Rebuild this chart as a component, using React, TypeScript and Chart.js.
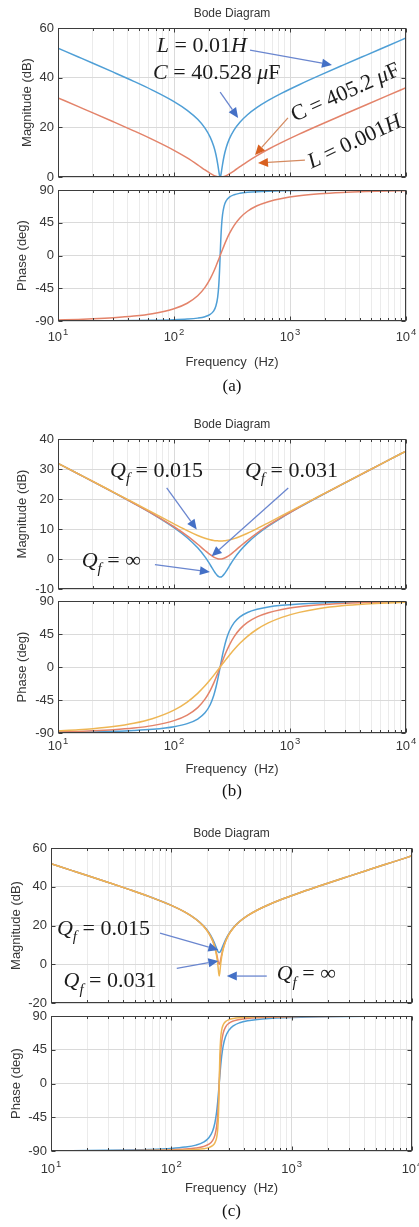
import React, { useEffect, useRef } from "react";
import { Chart, registerables } from "chart.js";

Chart.register(...registerables);

// ---------------- data ----------------
const FREQ_HZ = [10, 15, 20, 30, 45, 65, 100, 130, 160, 185, 205, 220, 230, 238, 243, 247, 250, 253, 257, 262, 270, 282, 300, 330, 370, 430, 520, 650, 850, 1200, 1800, 2800, 4500, 7000, 10000];

// (a) L = 0.01H, C = 40.528uF  /  L = 0.001H, C = 405.2uF
const A_MAG_L10 = [51.87, 48.33, 45.81, 42.21, 38.53, 35.01, 30.37, 26.86, 23.24, 19.7, 16.06, 12.36, 8.97, 5.3, 2.54, 0.58, 0, 0.57, 2.43, 5.01, 8.36, 11.87, 15.34, 18.98, 22.06, 25.07, 28.01, 30.83, 33.77, 37.16, 40.9, 44.84, 49.0, 52.85, 55.96];
const A_MAG_L1 = [31.87, 28.33, 25.82, 22.24, 18.59, 15.15, 10.75, 7.68, 4.91, 2.84, 1.44, 0.65, 0.29, 0.1, 0.03, 0.01, 0, 0.01, 0.03, 0.09, 0.25, 0.58, 1.24, 2.51, 4.14, 6.23, 8.64, 11.18, 13.94, 17.25, 20.94, 24.85, 29.01, 32.86, 35.96];
const A_PHASE_L10 = [-89.85, -89.78, -89.71, -89.56, -89.32, -88.98, -88.26, -87.4, -86.05, -84.06, -80.95, -76.06, -69.13, -57.1, -41.73, -20.74, 0, 20.57, 40.93, 55.83, 67.56, 75.23, 80.15, 83.54, 85.47, 86.8, 87.72, 88.35, 88.83, 89.21, 89.48, 89.67, 89.8, 89.87, 89.91];
const A_PHASE_L1 = [-88.54, -87.81, -87.07, -85.57, -83.25, -79.93, -73.14, -65.59, -55.39, -43.84, -32.11, -21.94, -14.7, -8.79, -5.1, -2.17, 0, 2.15, 4.96, 8.38, 13.61, 20.77, 29.94, 41.46, 51.64, 60.79, 68.29, 73.97, 78.42, 82.11, 84.85, 86.72, 87.97, 88.7, 89.09];

// (b) Qf = inf / 0.031 / 0.015
const B_MAG_QINF = [31.87, 28.33, 25.81, 22.22, 18.55, 15.05, 10.46, 7.08, 3.71, 0.69, -1.91, -3.85, -4.96, -5.62, -5.88, -6.0, -6.02, -6.0, -5.92, -5.66, -5.11, -4.05, -2.35, 0.13, 2.66, 5.38, 8.17, 10.92, 13.81, 17.18, 20.91, 24.84, 29.0, 32.85, 35.96];
const B_MAG_Q031 = [31.87, 28.33, 25.82, 22.24, 18.59, 15.15, 10.75, 7.68, 4.91, 2.84, 1.44, 0.65, 0.29, 0.1, 0.03, 0.01, 0, 0.01, 0.03, 0.09, 0.25, 0.58, 1.24, 2.51, 4.14, 6.23, 8.64, 11.18, 13.94, 17.25, 20.94, 24.85, 29.01, 32.86, 35.96];
const B_MAG_Q015 = [31.88, 28.35, 25.85, 22.31, 18.77, 15.53, 11.73, 9.47, 7.85, 6.92, 6.43, 6.19, 6.09, 6.05, 6.03, 6.02, 6.02, 6.02, 6.03, 6.04, 6.08, 6.17, 6.37, 6.79, 7.48, 8.57, 10.13, 12.07, 14.44, 17.48, 21.04, 24.89, 29.02, 32.86, 35.96];
const B_PHASE_QINF = [-89.27, -88.9, -88.53, -87.78, -86.61, -84.93, -81.38, -77.22, -70.96, -62.5, -51.45, -38.86, -27.68, -17.18, -10.12, -4.33, 0, 4.29, 9.84, 16.41, 25.84, 37.18, 49.04, 60.49, 68.41, 74.38, 78.74, 81.82, 84.15, 86.04, 87.42, 88.36, 88.98, 89.35, 89.54];
const B_PHASE_Q031 = [-88.54, -87.81, -87.07, -85.57, -83.25, -79.93, -73.14, -65.59, -55.39, -43.84, -32.11, -21.94, -14.7, -8.79, -5.1, -2.17, 0, 2.15, 4.96, 8.38, 13.61, 20.77, 29.94, 41.46, 51.64, 60.79, 68.29, 73.97, 78.42, 82.11, 84.85, 86.72, 87.97, 88.7, 89.09];
const B_PHASE_Q015 = [-87.08, -85.62, -84.15, -81.19, -76.68, -70.45, -58.78, -47.78, -35.92, -25.65, -17.42, -11.39, -7.47, -4.42, -2.55, -1.08, 0, 1.08, 2.48, 4.21, 6.91, 10.74, 16.07, 23.83, 32.28, 41.81, 51.48, 60.11, 67.71, 74.5, 79.78, 83.46, 85.94, 87.39, 88.18];

// (c) Qf = 0.015 / 0.031 / inf
const C_MAG_Q015 = [51.87, 48.33, 45.81, 42.21, 38.53, 35.02, 30.38, 26.9, 23.3, 19.83, 16.37, 13.06, 10.37, 8.06, 6.81, 6.17, 6.02, 6.17, 6.77, 7.9, 9.94, 12.65, 15.7, 19.14, 22.14, 25.1, 28.03, 30.85, 33.78, 37.16, 40.9, 44.84, 49.0, 52.85, 55.96];
const C_MAG_Q031 = [51.87, 48.33, 45.81, 42.21, 38.53, 35.01, 30.37, 26.86, 23.24, 19.7, 16.06, 12.36, 8.97, 5.3, 2.54, 0.58, 0, 0.57, 2.43, 5.01, 8.36, 11.87, 15.34, 18.98, 22.06, 25.07, 28.01, 30.83, 33.77, 37.16, 40.9, 44.84, 49.0, 52.85, 55.96];
const C_MAG_QINF = [51.87, 48.33, 45.81, 42.21, 38.53, 35.01, 30.37, 26.86, 23.23, 19.66, 15.98, 12.17, 8.53, 4.22, 0.2, -4.05, -6.02, -4.08, 0.01, 3.84, 7.86, 11.66, 15.24, 18.94, 22.04, 25.05, 28.0, 30.83, 33.77, 37.16, 40.9, 44.84, 49.0, 52.85, 55.96];
const C_PHASE_Q015 = [-89.71, -89.56, -89.41, -89.11, -88.64, -87.97, -86.53, -84.81, -82.14, -78.24, -72.32, -63.59, -52.67, -37.7, -24.04, -10.72, 0, 10.63, 23.44, 36.37, 50.44, 62.2, 70.85, 77.24, 81.0, 83.62, 85.45, 86.71, 87.65, 88.41, 88.97, 89.34, 89.59, 89.74, 89.82];
const C_PHASE_Q031 = [-89.85, -89.78, -89.71, -89.56, -89.32, -88.98, -88.26, -87.4, -86.05, -84.06, -80.95, -76.06, -69.13, -57.1, -41.73, -20.74, 0, 20.57, 40.93, 55.83, 67.56, 75.23, 80.15, 83.54, 85.47, 86.8, 87.72, 88.35, 88.83, 89.21, 89.48, 89.67, 89.8, 89.87, 89.91];
const C_PHASE_QINF = [-89.93, -89.89, -89.85, -89.78, -89.66, -89.49, -89.13, -88.7, -88.02, -87.02, -85.44, -82.92, -79.21, -72.08, -60.72, -37.13, 0, 36.9, 60.03, 71.25, 78.33, 82.49, 85.04, 86.76, 87.73, 88.4, 88.86, 89.18, 89.41, 89.6, 89.74, 89.84, 89.9, 89.93, 89.95];

// ticks
const X_TICKS = [10, 20, 30, 40, 50, 60, 70, 80, 90, 100, 200, 300, 400, 500, 600, 700, 800, 900, 1000, 2000, 3000, 4000, 5000, 6000, 7000, 8000, 9000, 10000];
const X_MAJOR = [10, 100, 1000, 10000];
const X_MAJOR_EXP = ["1", "2", "3", "4"];
const MAG_A_TICKS = [0, 20, 40, 60];
const MAG_B_TICKS = [-10, 0, 10, 20, 30, 40];
const MAG_C_TICKS = [-20, 0, 20, 40, 60];
const PHASE_TICKS = [-90, -45, 0, 45, 90];

// ---------------- styles ----------------
const BLUE = "#4f9fd6";
const RED = "#e3836a";
const YELLOW = "#eeb654";
const AXIS = "#3d3d3d";
const TICK_TEXT = "#363636";
const GRID_MAJOR = "#dadada";
const GRID_MINOR = "#ebebeb";
const ARROW_BLUE = "#4470c6";
const ARROW_BLUE_LINE = "#6a86cf";
const ARROW_RED = "#d9601f";
const ARROW_RED_LINE = "#d48a60";
const SANS = '"Liberation Sans", Arial, Helvetica, sans-serif';
const SERIF = '"Liberation Serif", "Times New Roman", Times, serif';
const W = 419;

type Part = { t: string; i?: boolean; sub?: boolean };
const P = (t: string, i = false, sub = false): Part => ({ t, i, sub });
const QF = (rest: string): Part[] => [P("Q", true), P("f", true, true), P(rest)];

const ANN_A = {
  texts: [
    { parts: [P("L", true), P(" = 0.01"), P("H", true)], x: 71, y: 50.3, align: "left", rot: 0 },
    { parts: [P("C", true), P(" = 40.528 "), P("\u03bc", true), P("F")], x: 66, y: 39.5, align: "left", rot: 0 },
    { parts: [P("C = 405.2 "), P("\u03bc", true), P("F")], x: 2980, y: 34.4, align: "center", rot: -24 },
    { parts: [P("L", true), P(" = 0.001"), P("H", true)], x: 3570, y: 14.6, align: "center", rot: -25 },
  ],
  arrows: [
    { x1: 452, y1: 51.1, x2: 2300, y2: 45.1, line: ARROW_BLUE_LINE, head: ARROW_BLUE },
    { x1: 250, y1: 34.2, x2: 357, y2: 23.8, line: ARROW_BLUE_LINE, head: ARROW_BLUE },
    { x1: 960, y1: 23.8, x2: 500, y2: 8.9, line: ARROW_RED_LINE, head: ARROW_RED },
    { x1: 1345, y1: 6.8, x2: 530, y2: 5.6, line: ARROW_RED_LINE, head: ARROW_RED },
  ],
};
const ANN_B = {
  texts: [
    { parts: QF(" = 0.015"), x: 28.1, y: 27.4, align: "left", rot: 0 },
    { parts: QF(" = 0.031"), x: 409, y: 27.4, align: "left", rot: 0 },
    { parts: QF(" = \u221e"), x: 16, y: -2.6, align: "left", rot: 0 },
  ],
  arrows: [
    { x1: 86.5, y1: 23.7, x2: 157, y2: 9.8, line: ARROW_BLUE_LINE, head: ARROW_BLUE },
    { x1: 966, y1: 23.7, x2: 211, y2: 0.9, line: ARROW_BLUE_LINE, head: ARROW_BLUE },
    { x1: 68.5, y1: -1.9, x2: 204, y2: -4.3, line: ARROW_BLUE_LINE, head: ARROW_BLUE },
  ],
};
const ANN_C = {
  texts: [
    { parts: QF(" = 0.015"), x: 11.2, y: 15.2, align: "left", rot: 0 },
    { parts: QF(" = 0.031"), x: 12.7, y: -11.8, align: "left", rot: 0 },
    { parts: QF(" = \u221e"), x: 751, y: -8.1, align: "left", rot: 0 },
  ],
  arrows: [
    { x1: 80.5, y1: 16.1, x2: 246, y2: 7.4, line: ARROW_BLUE_LINE, head: ARROW_BLUE },
    { x1: 111, y1: -2.1, x2: 246, y2: 1.7, line: ARROW_BLUE_LINE, head: ARROW_BLUE },
    { x1: 621, y1: -6.1, x2: 289, y2: -6.1, line: ARROW_BLUE_LINE, head: ARROW_BLUE },
  ],
};

const PANELS: any[] = [
  { key: "a-mag", top: 0, height: 184, padTop: 28, padBottom: 7, padRight: 13, plotLeft: 58, xAxisHeight: 0, showX: false,
    yMin: 0, yMax: 60, yTicks: MAG_A_TICKS, yLabel: "Magnitude (dB)", yLabelX: 27.5, title: "Bode Diagram",
    series: [{ v: A_MAG_L10, c: BLUE }, { v: A_MAG_L1, c: RED }], ann: ANN_A },
  { key: "a-ph", top: 184, height: 214, padTop: 6, padBottom: 0, padRight: 13, plotLeft: 58, xAxisHeight: 77, showX: true, xTickGap: 16,
    yMin: -90, yMax: 90, yTicks: PHASE_TICKS, yLabel: "Phase (deg)", yLabelX: 22.5, xLabel: "Frequency  (Hz)", xLabelGap: 41, caption: "(a)", captionGap: 66,
    series: [{ v: A_PHASE_L10, c: BLUE }, { v: A_PHASE_L1, c: RED }] },
  { key: "b-mag", top: 398, height: 197, padTop: 41, padBottom: 6, padRight: 13, plotLeft: 58, xAxisHeight: 0, showX: false,
    yMin: -10, yMax: 40, yTicks: MAG_B_TICKS, yLabel: "Magnitude (dB)", yLabelX: 22.5, title: "Bode Diagram",
    series: [{ v: B_MAG_QINF, c: BLUE }, { v: B_MAG_Q031, c: RED }, { v: B_MAG_Q015, c: YELLOW }], ann: ANN_B },
  { key: "b-ph", top: 595, height: 210, padTop: 6, padBottom: 0, padRight: 13, plotLeft: 58, xAxisHeight: 72, showX: true, xTickGap: 13,
    yMin: -90, yMax: 90, yTicks: PHASE_TICKS, yLabel: "Phase (deg)", yLabelX: 22.5, xLabel: "Frequency  (Hz)", xLabelGap: 36, caption: "(b)", captionGap: 59,
    series: [{ v: B_PHASE_QINF, c: BLUE }, { v: B_PHASE_Q031, c: RED }, { v: B_PHASE_Q015, c: YELLOW }] },
  { key: "c-mag", top: 805, height: 204, padTop: 43, padBottom: 6, padRight: 7, plotLeft: 51, xAxisHeight: 0, showX: false,
    yMin: -20, yMax: 60, yTicks: MAG_C_TICKS, yLabel: "Magnitude (dB)", yLabelX: 16, title: "Bode Diagram",
    series: [{ v: C_MAG_Q015, c: BLUE }, { v: C_MAG_Q031, c: RED }, { v: C_MAG_QINF, c: YELLOW }], ann: ANN_C },
  { key: "c-ph", top: 1009, height: 218, padTop: 7, padBottom: 0, padRight: 7, plotLeft: 51, xAxisHeight: 76, showX: true, xTickGap: 18,
    yMin: -90, yMax: 90, yTicks: PHASE_TICKS, yLabel: "Phase (deg)", yLabelX: 16, xLabel: "Frequency  (Hz)", xLabelGap: 37, caption: "(c)", captionGap: 61,
    series: [{ v: C_PHASE_Q015, c: BLUE }, { v: C_PHASE_Q031, c: RED }, { v: C_PHASE_QINF, c: YELLOW }] },
];

// ---------------- drawing helpers ----------------
function drawRich(ctx: CanvasRenderingContext2D, parts: Part[], x: number, y: number, size: number, align: string, rot: number) {
  const fontOf = (p: Part) => `${p.i ? "italic " : ""}${p.sub ? Math.round(size * 0.66) : size}px ${SERIF}`;
  const widths = parts.map((p) => {
    ctx.font = fontOf(p);
    return ctx.measureText(p.t).width;
  });
  const total = widths.reduce((a, b) => a + b, 0);
  ctx.save();
  ctx.translate(x, y);
  ctx.rotate((rot * Math.PI) / 180);
  ctx.fillStyle = "#1c1c1c";
  ctx.textBaseline = "alphabetic";
  ctx.textAlign = "left";
  let cx = align === "center" ? -total / 2 : 0;
  const dy = align === "center" ? size * 0.33 : 0;
  parts.forEach((p, i) => {
    ctx.font = fontOf(p);
    ctx.fillText(p.t, cx, dy + (p.sub ? size * 0.3 : 0));
    cx += widths[i];
  });
  ctx.restore();
}

function drawArrow(ctx: CanvasRenderingContext2D, x1: number, y1: number, x2: number, y2: number, line: string, head: string) {
  const a = Math.atan2(y2 - y1, x2 - x1);
  const hl = 10, hw = 4.5;
  const bx = x2 - hl * Math.cos(a), by = y2 - hl * Math.sin(a);
  ctx.save();
  ctx.strokeStyle = line;
  ctx.lineWidth = 1.3;
  ctx.beginPath();
  ctx.moveTo(x1, y1);
  ctx.lineTo(bx, by);
  ctx.stroke();
  ctx.fillStyle = head;
  ctx.beginPath();
  ctx.moveTo(x2, y2);
  ctx.lineTo(bx + hw * Math.sin(a), by - hw * Math.cos(a));
  ctx.lineTo(bx - hw * Math.sin(a), by + hw * Math.cos(a));
  ctx.closePath();
  ctx.fill();
  ctx.restore();
}

function makeFrame(spec: any) {
  return {
    id: "frame_" + spec.key.replace("-", "_"),
    afterDatasetsDraw(chart: any) {
      const ctx: CanvasRenderingContext2D = chart.ctx;
      const { left, right, top, bottom } = chart.chartArea;
      const xs = chart.scales.x;
      const ys = chart.scales.y;
      const L = Math.round(left) + 0.5;
      const R = Math.round(right) - 0.5;
      const T = Math.round(top) + 0.5;
      const B = Math.round(bottom) - 0.5;
      ctx.save();
      ctx.strokeStyle = AXIS;
      ctx.lineWidth = 1;
      ctx.beginPath();
      for (const t of xs.ticks) {
        const px = Math.round(xs.getPixelForValue(t.value)) + 0.5;
        const len = t.major ? 4 : 2.5;
        ctx.moveTo(px, B);
        ctx.lineTo(px, B - len);
        ctx.moveTo(px, T);
        ctx.lineTo(px, T + len);
      }
      for (const t of ys.ticks) {
        const py = Math.round(ys.getPixelForValue(t.value)) + 0.5;
        ctx.moveTo(L, py);
        ctx.lineTo(L + 4, py);
        ctx.moveTo(R, py);
        ctx.lineTo(R - 4, py);
      }
      ctx.stroke();
      ctx.strokeRect(L, T, R - L, B - T);

      const cxm = (left + right) / 2;
      ctx.fillStyle = TICK_TEXT;
      ctx.textBaseline = "middle";

      // x tick labels: 10 with raised exponent
      if (spec.showX) {
        X_MAJOR.forEach((v, k) => {
          const px = xs.getPixelForValue(v);
          const base = "10";
          const ex = X_MAJOR_EXP[k];
          ctx.font = `13px ${SANS}`;
          const wb = ctx.measureText(base).width;
          ctx.font = `9.5px ${SANS}`;
          const we = ctx.measureText(ex).width;
          const x0 = px - (wb + we + 1) / 2;
          const y0 = bottom + spec.xTickGap;
          ctx.textAlign = "left";
          ctx.font = `13px ${SANS}`;
          ctx.fillText(base, x0, y0);
          ctx.font = `9.5px ${SANS}`;
          ctx.fillText(ex, x0 + wb + 1, y0 - 5);
        });
      }

      ctx.textAlign = "center";
      if (spec.title) {
        ctx.font = `12px ${SANS}`;
        ctx.fillText(spec.title, cxm, top - 14.5);
      }
      if (spec.xLabel) {
        ctx.font = `13px ${SANS}`;
        ctx.fillText(spec.xLabel, cxm, bottom + spec.xLabelGap);
      }
      if (spec.caption) {
        ctx.font = `17px ${SERIF}`;
        ctx.fillStyle = "#111";
        ctx.fillText(spec.caption, cxm, bottom + spec.captionGap);
      }
      if (spec.yLabel) {
        ctx.save();
        ctx.fillStyle = TICK_TEXT;
        ctx.translate(spec.yLabelX, (top + bottom) / 2);
        ctx.rotate(-Math.PI / 2);
        ctx.font = `13px ${SANS}`;
        ctx.fillText(spec.yLabel, 0, 0);
        ctx.restore();
      }
      ctx.restore();
    },
    afterDraw(chart: any) {
      const ann = spec.ann;
      if (!ann) return;
      const ctx: CanvasRenderingContext2D = chart.ctx;
      const xs = chart.scales.x;
      const ys = chart.scales.y;
      for (const a of ann.arrows) {
        drawArrow(ctx, xs.getPixelForValue(a.x1), ys.getPixelForValue(a.y1), xs.getPixelForValue(a.x2), ys.getPixelForValue(a.y2), a.line, a.head);
      }
      for (const t of ann.texts) {
        drawRich(ctx, t.parts, xs.getPixelForValue(t.x), ys.getPixelForValue(t.y), 22, t.align, t.rot);
      }
    },
  };
}

function buildConfig(spec: any): any {
  const tickFont = { family: SANS, size: 13 };
  return {
    type: "line",
    data: {
      datasets: spec.series.map((s: any, i: number) => ({
        data: FREQ_HZ.map((f, j) => ({ x: f, y: s.v[j] })),
        borderColor: s.c,
        backgroundColor: s.c,
        borderWidth: 1.5,
        pointRadius: 0,
        fill: false,
        order: -i,
        cubicInterpolationMode: "monotone",
      })),
    },
    options: {
      responsive: false,
      animation: false,
      devicePixelRatio: 1,
      events: [],
      layout: { padding: { left: 0, right: spec.padRight, top: spec.padTop, bottom: spec.padBottom } },
      plugins: { legend: { display: false }, tooltip: { enabled: false }, title: { display: false } },
      scales: {
        x: {
          type: "logarithmic",
          min: 10,
          max: 10000,
          afterBuildTicks: (s: any) => {
            s.ticks = X_TICKS.map((v) => ({ value: v, major: X_MAJOR.includes(v) }));
          },
          afterFit: (s: any) => {
            s.height = spec.xAxisHeight;
            s.paddingLeft = 0;
            s.paddingRight = 0;
          },
          ticks: { display: false, autoSkip: false, maxRotation: 0, minRotation: 0 },
          grid: {
            drawTicks: false,
            lineWidth: 1,
            color: (c: any) => (c.tick && c.tick.major ? GRID_MAJOR : GRID_MINOR),
          },
          border: { display: false },
        },
        y: {
          type: "linear",
          min: spec.yMin,
          max: spec.yMax,
          afterBuildTicks: (s: any) => {
            s.ticks = spec.yTicks.map((v: number) => ({ value: v }));
          },
          afterFit: (s: any) => {
            s.width = spec.plotLeft;
            s.paddingTop = 0;
            s.paddingBottom = 0;
          },
          ticks: { padding: 4, font: tickFont, color: TICK_TEXT, autoSkip: false, callback: (v: number) => String(v) },
          grid: { drawTicks: false, lineWidth: 1, color: GRID_MAJOR },
          border: { display: false },
        },
      },
    },
    plugins: [makeFrame(spec)],
  };
}

function BodeCanvas({ spec }: { spec: any }) {
  const ref = useRef<HTMLCanvasElement | null>(null);
  useEffect(() => {
    if (!ref.current) return;
    const chart = new Chart(ref.current, buildConfig(spec));
    return () => chart.destroy();
  }, [spec]);
  return (
    <canvas
      ref={ref}
      width={W}
      height={spec.height}
      style={{ position: "absolute", left: 0, top: spec.top, width: W, height: spec.height, display: "block" }}
    />
  );
}

export default function App() {
  return (
    <div style={{ position: "absolute", left: 0, top: 0, width: W, height: 1227, background: "#ffffff", overflow: "hidden" }}>
      {PANELS.map((p) => (
        <BodeCanvas key={p.key} spec={p} />
      ))}
    </div>
  );
}
